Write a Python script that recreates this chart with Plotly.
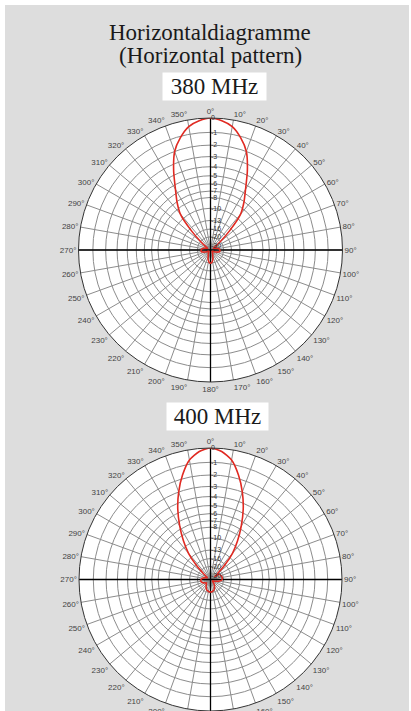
import plotly.graph_objects as go

# ---- data ----
angles5 = list(range(0, 361, 5))

# 380 MHz pattern (dB), every 5 degrees, 0..360 clockwise
db_380 = [0, -0.15, -0.45, -1.1, -2.0, -3.6, -5.5, -7.1, -9.0, -14, -21, -28,
          -32, -30, -28, -26, -24.4, -23.3, -23, -22.9, -23, -24.4, -27, -30,
          -34, -35, -36, -35, -34, -32, -30, -28, -26, -23, -21.4, -20.3,
          -20,
          -20.3, -21.4, -23, -26, -28, -30, -32, -34, -35, -36, -35, -34,
          -30, -27, -24.4, -23, -22.9, -23, -23.3, -24.4, -26, -28, -30,
          -32, -28, -21, -14, -9.0, -7.1, -5.5, -3.6, -2.0, -1.1, -0.45, -0.15, 0]

# 400 MHz pattern (dB), every 5 degrees
db_400 = [0, -0.2, -0.7, -1.7, -3.0, -4.6, -6.6, -8.9, -11.7, -16.5, -23, -28,
          -22.5, -21.7, -21.4, -21.1, -20.9, -21, -21.1, -21.6, -23.1, -25, -28, -31,
          -34, -34, -34, -31, -28, -26, -24.4, -23, -21.9, -21.2, -20.7, -20.5,
          -20.4,
          -20.5, -20.7, -21.2, -21.5, -22.5, -23.4, -25, -26, -27, -28, -26.5, -26,
          -24.4, -23.5, -23, -22.5, -22.5, -22.9, -23.5, -24.4, -26, -28, -30,
          -31, -28, -23, -16.5, -11.7, -8.9, -6.6, -4.6, -3.0, -1.7, -0.7, -0.2, 0]

db_ticks = [0, -1, -2, -3, -4, -5, -6, -7, -8, -10, -13, -16, -20, -30]
angle_ticks = list(range(0, 360, 10))

amp_ticks = [10 ** (d / 20) for d in db_ticks]
tick_text = [str(d) for d in db_ticks]
amp_380 = [10 ** (d / 20) for d in db_380]
amp_400 = [10 ** (d / 20) for d in db_400]

LABEL_FONT = "Liberation Sans, Arial, sans-serif"
SERIF = "Liberation Serif, Times New Roman, serif"

fig = go.Figure()

for sub, amp in (("polar", amp_380), ("polar2", amp_400)):
    rmax = max(amp_ticks)
    fig.add_trace(go.Scatterpolar(r=[rmax, 0, rmax], theta=[0, 0, 180], mode="lines",
                                  line=dict(color="black", width=1.3), subplot=sub,
                                  hoverinfo="skip", showlegend=False))
    fig.add_trace(go.Scatterpolar(r=[rmax, 0, rmax], theta=[90, 90, 270], mode="lines",
                                  line=dict(color="black", width=1.3), subplot=sub,
                                  hoverinfo="skip", showlegend=False))
    fig.add_trace(go.Scatterpolar(r=amp, theta=angles5, mode="lines",
                                  line=dict(color="#e02a22", width=1.6, shape="spline", smoothing=0.6),
                                  subplot=sub, showlegend=False))

def polar_layout(domain_y):
    return dict(
        domain=dict(x=[(210.5 - 132) / 411, (210.5 + 132) / 411], y=domain_y),
        bgcolor="white",
        angularaxis=dict(rotation=90, direction="clockwise",
                         tickmode="array", tickvals=angle_ticks,
                         ticktext=[f"{a}°" for a in angle_ticks],
                         tickfont=dict(family=LABEL_FONT, size=8, color="#444"),
                         showgrid=True, gridcolor="#8c8c8c", gridwidth=0.6,
                         showline=True, linecolor="#333", linewidth=1, ticks=""),
        radialaxis=dict(range=[0, 1], tickmode="array", tickvals=amp_ticks,
                        ticktext=tick_text, angle=90, tickangle=90,
                        tickfont=dict(family=LABEL_FONT, size=7, color="#333"),
                        showgrid=True, gridcolor="#8c8c8c", gridwidth=0.6,
                        showline=False, ticks=""),
    )

def label(text, x, y, size=23, box=None):
    a = dict(text=text, x=x / 411, y=1 - y / 711, xref="paper", yref="paper",
             xanchor="center", yanchor="middle", showarrow=False,
             font=dict(family=SERIF, size=size, color="#1a1a1a"))
    if box:
        a.update(bgcolor="white", borderpad=0, width=box[0], height=box[1])
    return a

fig.update_layout(
    width=411, height=711,
    margin=dict(l=0, r=0, t=0, b=0),
    paper_bgcolor="white",
    polar=polar_layout([1 - 382 / 711, 1 - 118 / 711]),
    polar2=polar_layout([0, 1 - 448 / 711]),
    shapes=[dict(type="rect", xref="paper", yref="paper", x0=5 / 411, x1=409 / 411,
                 y0=0, y1=1 - 5 / 711, fillcolor="#dddddd", line=dict(width=0), layer="below")],
    annotations=[
        label("Horizontaldiagramme", 210, 33),
        label("(Horizontal pattern)", 210, 56),
        label("380 MHz", 214.5, 86.5, box=(103, 27)),
        label("400 MHz", 217, 416.5, box=(101, 27)),
    ],
)

fig.write_html("out.html", config={"displayModeBar": False},
               post_script="document.body.style.margin='0';")
